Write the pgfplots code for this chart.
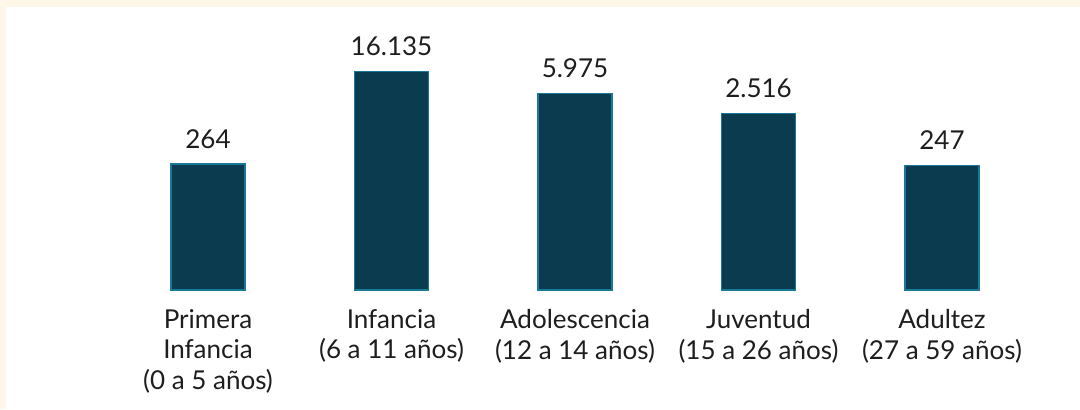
\documentclass[border=0pt]{standalone}
\usepackage{pgfplots}
\pgfplotsset{compat=1.18}
\usepackage{fontspec}
\setmainfont{Lato}
\definecolor{bg}{HTML}{FFF8E9}
\definecolor{barfill}{HTML}{0A3B4E}
\definecolor{baredge}{HTML}{1A7898}
\definecolor{txt}{HTML}{1E1E1E}
\begin{document}
\begin{tikzpicture}[x=1bp,y=1bp]
\fill[bg] (0,0) rectangle (1080,409);
\fill[white] (6,0) rectangle (1080,402);
\begin{axis}[
  at={(116.25bp,119bp)}, anchor=south west,
  scale only axis, width=917.5bp, height=260bp,
  xmin=-0.5, xmax=4.5, ymode=log, ymin=1, ymax=1e5,
  axis line style={draw=none}, major tick length=0pt,
  ytick=\empty, xtick={0,1,2,3,4},
  xticklabels={{Primera\\Infancia\\(0 a 5 años)},{Infancia\\(6 a 11 años)},{Adolescencia\\(12 a 14 años)},{Juventud\\(15 a 26 años)},{Adultez\\(27 a 59 años)}},
  xticklabel style={align=center, anchor=north, inner sep=0pt, yshift=-19bp, text=txt, font=\fontsize{26bp}{30.7bp}\selectfont},
  ybar, bar width=74bp,
  nodes near coords, point meta=explicit symbolic,
  every node near coord/.append style={font=\fontsize{26bp}{30bp}\selectfont, text=txt, inner sep=0pt, yshift=15bp},
  clip=false,
]
\addplot[fill=barfill, draw=baredge, line width=1.2bp] table[meta=label] {
x y label
0 264 264
1 16135 16.135
2 5975 5.975
3 2516 2.516
4 247 247
};
\end{axis}
\end{tikzpicture}
\end{document}
